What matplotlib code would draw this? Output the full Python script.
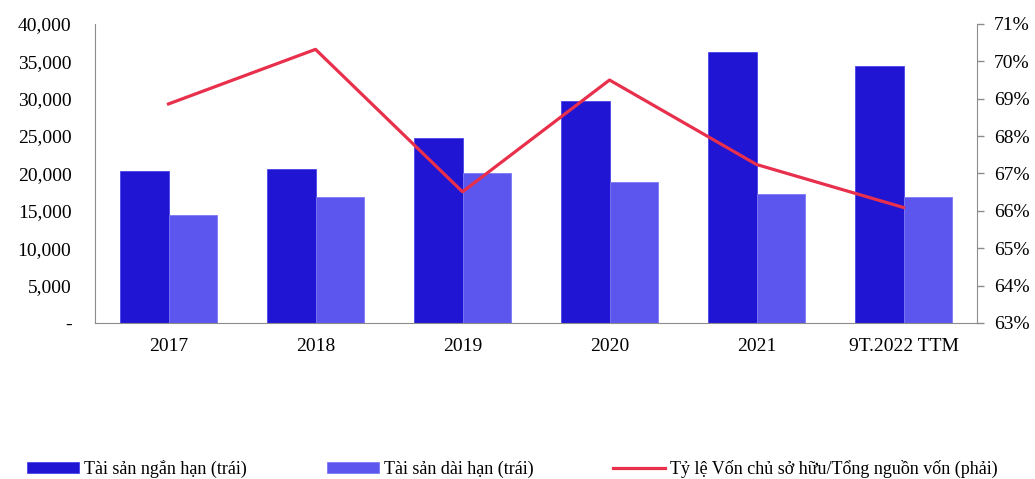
import matplotlib.pyplot as plt
import matplotlib.ticker as mticker
import numpy as np

# data
categories = ["2017", "2018", "2019", "2020", "2021", "9T.2022 TTM"]
short_term = [20300, 20600, 24800, 29700, 36200, 34400]
long_term = [14400, 16850, 20000, 18800, 17300, 16850]
equity_ratio = [68.86, 70.32, 66.51, 69.50, 67.24, 66.09]

plt.rcParams['font.family'] = ['Liberation Serif', 'DejaVu Serif']

dark = '#2015D3'
light = '#5C56EE'
red = '#E8304C'

fig = plt.figure(figsize=(10.35, 4.79), dpi=100)
ax = fig.add_axes([0.0918, 0.3257, 0.8522, 0.6243])
ax2 = ax.twinx()

x = np.arange(len(categories))
w = 0.33
b1 = ax.bar(x - w / 2, short_term, w, color=dark, edgecolor='#4a44e8', linewidth=0.6,
            label='Tài sản ngắn hạn (trái)', zorder=2)
b2 = ax.bar(x + w / 2, long_term, w, color=light, edgecolor='#7d78f5', linewidth=0.6,
            label='Tài sản dài hạn (trái)', zorder=2)
ln, = ax2.plot(x, equity_ratio, color=red, linewidth=2.3,
               label='Tỷ lệ Vốn chủ sở hữu/Tổng nguồn vốn (phải)')

ax.set_xlim(-0.5, len(categories) - 0.5)
ax.set_ylim(0, 40000)
ax.set_yticks(np.arange(0, 40001, 5000))
ax.yaxis.set_major_formatter(mticker.FuncFormatter(lambda v, p: '-' if v == 0 else f'{v:,.0f}'))
ax2.set_ylim(63, 71)
ax2.set_yticks(np.arange(63, 72, 1))
ax2.yaxis.set_major_formatter(mticker.FuncFormatter(lambda v, p: f'{v:.0f}%'))

ax.set_xticks(x)
ax.set_xticklabels(categories)

for a in (ax, ax2):
    a.spines['top'].set_visible(False)
    a.spines['left'].set_color('#8c8c8c')
    a.spines['right'].set_color('#8c8c8c')
    a.spines['bottom'].set_color('#8c8c8c')
ax.spines['right'].set_visible(False)
ax2.spines['left'].set_visible(False)
ax2.spines['bottom'].set_visible(False)

ax.tick_params(axis='y', length=0, pad=17, labelsize=14)
ax.tick_params(axis='x', length=0, pad=11, labelsize=14)
ax2.tick_params(axis='y', length=5, width=1, color='#8c8c8c', pad=7, labelsize=14)

fig.legend(handles=[b1, b2, ln], loc='center left', bbox_to_anchor=(0.026, 0.021),
           ncol=3, frameon=False, fontsize=13, handlelength=2.9, handleheight=0.5,
           handletextpad=0.28, columnspacing=4.4, borderpad=0, borderaxespad=0)

fig.savefig('out.png', dpi=100)
